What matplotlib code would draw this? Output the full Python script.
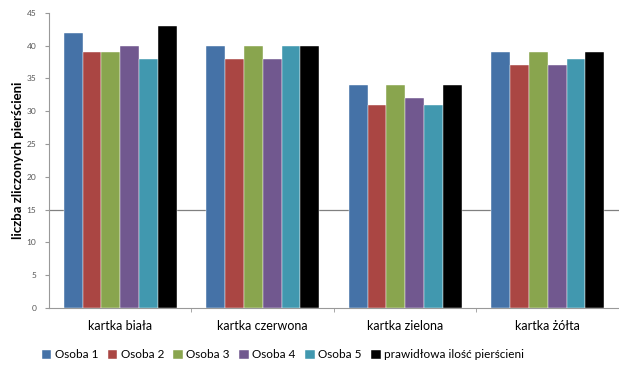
import matplotlib
matplotlib.use("Agg")
import matplotlib.pyplot as plt
import numpy as np

plt.rcParams['font.family'] = ['Lato', 'DejaVu Sans']

categories = ["kartka biała", "kartka czerwona", "kartka zielona", "kartka żółta"]
series_names = ["Osoba 1", "Osoba 2", "Osoba 3", "Osoba 4", "Osoba 5",
                "prawidłowa ilość pierścieni"]
osoba1 = [42, 40, 34, 39]
osoba2 = [39, 38, 31, 37]
osoba3 = [39, 40, 34, 39]
osoba4 = [40, 38, 32, 37]
osoba5 = [38, 40, 31, 38]
prawidlowa = [43, 40, 34, 39]
y_ticks = [0, 5, 10, 15, 20, 25, 30, 35, 40, 45]

series = [osoba1, osoba2, osoba3, osoba4, osoba5, prawidlowa]
colors = ["#4572A7", "#AA4643", "#89A54E", "#71588F", "#4198AF", "#000000"]

fig = plt.figure(figsize=(6.19, 3.67), dpi=100)
ax = fig.add_axes([0.079, 0.161, 0.921, 0.804])

x = np.arange(len(categories))
bw = 0.132
for i, (vals, col) in enumerate(zip(series, colors)):
    offs = (i - (len(series) - 1) / 2) * bw
    ax.bar(x + offs, vals, bw, color=col, label=series_names[i], zorder=3,
           edgecolor="white", linewidth=0.3)

ax.axhline(15, color="#808080", linewidth=0.9, zorder=1)

ax.set_xlim(-0.5, len(categories) - 0.5)
ax.set_ylim(0, 45)
ax.set_yticks(y_ticks)
ax.set_yticklabels([str(t) for t in y_ticks], fontsize=6, color="#555555")
ax.set_xticks(x)
ax.set_xticklabels(categories, fontsize=9)
ax.tick_params(axis="x", length=0, pad=9)
ax.set_xticks(np.arange(0.5, len(categories) - 0.5, 1), minor=True)
ax.tick_params(axis="x", which="minor", length=3, color="#999999")
ax.tick_params(axis="y", length=3, color="#999999", pad=6)

for s in ["top", "right"]:
    ax.spines[s].set_visible(False)
for s in ["left", "bottom"]:
    ax.spines[s].set_color("#999999")
    ax.spines[s].set_linewidth(0.8)

ax.set_ylabel("liczba zliczonych pierścieni", fontsize=9.5, fontweight="bold",
              labelpad=2)

fig.legend(loc="center", bbox_to_anchor=(0.457, 0.033), ncol=6, frameon=False,
           fontsize=8.5, handlelength=0.8, handleheight=0.8, handletextpad=0.3,
           columnspacing=0.8)

fig.savefig("out.png", dpi=100)
